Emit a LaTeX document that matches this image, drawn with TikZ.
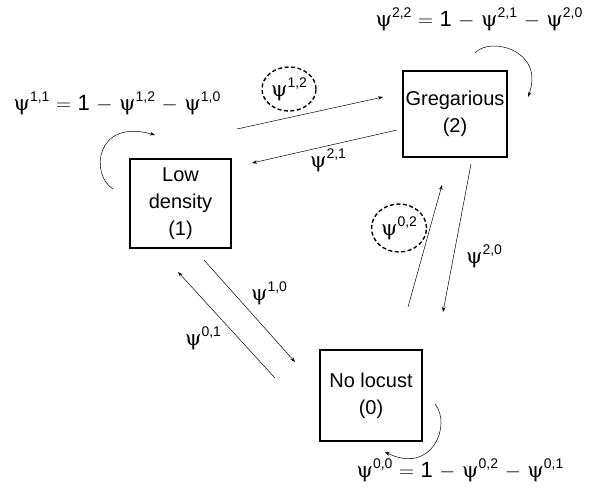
\documentclass[tikz,border=0pt]{standalone}
\usepackage{fontspec}
\setmainfont{Liberation Sans}
\newfontfamily\gk{DejaVu Serif}
\usetikzlibrary{arrows.meta,shapes.geometric}
\newcommand{\ps}[1]{{\gk\fontsize{21}{21}\selectfont ψ}\raisebox{0.42em}{\fontsize{14}{14}\selectfont #1}}
\newcommand{\op}[1]{\hspace{0.3em}$#1$\hspace{0.3em}}
\begin{document}
\begin{tikzpicture}[x=1pt,y=-1pt,
  statebox/.style={draw,line width=1.1pt,align=center,font=\fontsize{20}{27}\selectfont,inner sep=0pt},
  lab/.style={font=\fontsize{22}{24}\selectfont,inner sep=1pt},
  conn/.style={line width=0.5pt,-{Stealth[length=5pt,width=3.5pt]}},
  hl/.style={draw,dash pattern=on 4pt off 2.5pt,line width=1.4pt,ellipse,inner sep=0pt}]
\useasboundingbox (0,0) rectangle (596,488);
\node[statebox,minimum width=101pt,minimum height=89pt] (low) at (180.5,203.5) {Low\\density\\(1)};
\node[statebox,minimum width=104pt,minimum height=86pt] (greg) at (455,114) {Gregarious\\(2)};
\node[statebox,minimum width=102pt,minimum height=91pt] (none) at (371,395.5) {No locust\\(0)};
% endpoints
\coordinate (a12s) at (237,129); \coordinate (a12e) at (383,97);
\coordinate (a21s) at (397,130); \coordinate (a21e) at (252,163);
\coordinate (a02s) at (408,307); \coordinate (a02e) at (442,185);
\coordinate (a20s) at (471,164); \coordinate (a20e) at (443,312);
\coordinate (a10s) at (204,260); \coordinate (a10e) at (295,362);
\coordinate (a01s) at (275,378); \coordinate (a01e) at (178,272);
\coordinate (l1s) at (113,189); \coordinate (l1e) at (155,135);
\coordinate (l2s) at (475,53); \coordinate (l2e) at (528,97);
\coordinate (l0s) at (435,404); \coordinate (l0e) at (385,452);
\draw[conn] (a12s) -- (a12e);
\draw[conn] (a21s) -- (a21e);
\draw[conn] (a02s) -- (a02e);
\draw[conn] (a20s) -- (a20e);
\draw[conn] (a10s) -- (a10e);
\draw[conn] (a01s) -- (a01e);
\draw[conn] (l1s) .. controls (90,175) and (95,118) .. (l1e);
\draw[conn] (l2s) .. controls (490,36) and (545,50) .. (l2e);
\draw[conn] (l0s) .. controls (452,425) and (432,475) .. (l0e);
% labels
\node[lab] (e11) at (117,103) {\ps{1,1}\op{=}1\op{-}\ps{1,2}\op{-}\ps{1,0}};
\node[lab] (e22) at (479,19) {\ps{2,2}\op{=}1\op{-}\ps{2,1}\op{-}\ps{2,0}};
\node[lab] (e00) at (460,470) {\ps{0,0}\op{=}1\op{-}\ps{0,2}\op{-}\ps{0,1}};
\node[lab,hl,minimum width=54pt,minimum height=44pt] (p12) at (289,89) {\ps{1,2}};
\node[lab] (p21) at (328,160) {\ps{2,1}};
\node[lab,hl,minimum width=55pt,minimum height=48pt] (p02) at (399,228) {\ps{0,2}};
\node[lab] (p20) at (484,256) {\ps{2,0}};
\node[lab] (p10) at (269,293) {\ps{1,0}};
\node[lab] (p01) at (203,338) {\ps{0,1}};
\end{tikzpicture}
\end{document}
